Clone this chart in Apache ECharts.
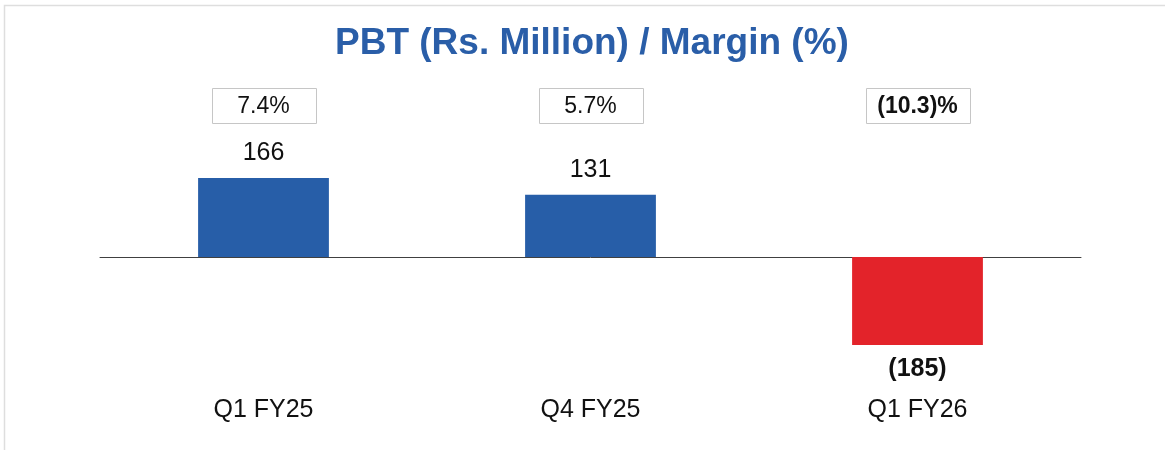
<!DOCTYPE html>
<html>
<head>
<meta charset="utf-8">
<script src="https://cdn.jsdelivr.net/npm/echarts@6/dist/echarts.min.js"></script>
<style>
html,body{margin:0;padding:0;background:#fff;}
#chart{width:1165px;height:450px;}
</style>
</head>
<body>
<div id="chart"></div>
<script>
var categories = ['Q1 FY25', 'Q4 FY25', 'Q1 FY26'];
var pbt = [166, 131, -185];
var margin = [7.4, 5.7, -10.3];
var yMin = -300, yMax = 300;

var FONT = "'Liberation Sans', Arial, sans-serif";
var BLUE = '#275ea8';
var RED = '#e3232a';

function fmtNum(v) { return v < 0 ? '(' + Math.abs(v) + ')' : String(v); }
function fmtPct(v) { return v < 0 ? '(' + Math.abs(v).toFixed(1) + ')%' : v.toFixed(1) + '%'; }

var chart = echarts.init(document.getElementById('chart'));
chart.setOption({
  animation: false,
  backgroundColor: '#fff',
  title: {
    text: 'PBT (Rs. Million) / Margin (%)',
    left: 335, top: 25, padding: 0,
    textStyle: { fontFamily: FONT, fontSize: 37, fontWeight: 'bold', color: '#2a5ea8' }
  },
  graphic: [{
    type: 'rect', silent: true, z: -1,
    shape: { x: 4.5, y: 5.5, width: 1300, height: 600 },
    style: { fill: 'none', stroke: '#dedede', lineWidth: 1.5 }
  }],
  grid: [
    { left: 100, right: 84, top: 114.2, height: 285.6 },
    { left: 100, right: 84, top: 88, height: 35 }
  ],
  xAxis: [
    { type: 'category', data: categories, gridIndex: 0,
      axisLine: { onZero: true, lineStyle: { color: '#404040', width: 1 } },
      axisTick: { show: false }, axisLabel: { show: false }, splitLine: { show: false } },
    { type: 'category', data: categories, gridIndex: 0, position: 'bottom',
      axisLine: { show: false, onZero: false }, axisTick: { show: false }, splitLine: { show: false },
      axisLabel: { show: true, margin: -2, fontFamily: FONT, fontSize: 25, color: '#111' } },
    { type: 'category', data: categories, gridIndex: 1, show: false }
  ],
  yAxis: [
    { type: 'value', min: yMin, max: yMax, gridIndex: 0, show: false, splitLine: { show: false } },
    { type: 'category', data: ['Margin'], gridIndex: 1, show: false }
  ],
  series: [
    {
      type: 'bar', xAxisIndex: 0, yAxisIndex: 0, barWidth: '40%',
      data: pbt.map(function (v) {
        return {
          value: v,
          itemStyle: { color: v < 0 ? RED : BLUE },
          label: {
            position: v < 0 ? 'bottom' : 'top',
            distance: v < 0 ? 11.5 : 12.5,
            fontWeight: v < 0 ? 'bold' : 'normal'
          }
        };
      }),
      label: {
        show: true, fontFamily: FONT, fontSize: 25, color: '#111',
        formatter: function (p) { return fmtNum(p.value); }
      }
    },
    {
      type: 'custom', xAxisIndex: 2, yAxisIndex: 1, silent: true,
      data: margin.map(function (m, i) { return [categories[i], 'Margin', m]; }),
      renderItem: function (params, api) {
        var c = api.coord([api.value(0), api.value(1)]);
        var m = api.value(2);
        var w = 104, h = 35;
        var x = Math.round(c[0] - w / 2) + 0.5;
        var y = Math.round(c[1] - h / 2) + 0.5;
        return {
          type: 'group',
          children: [
            { type: 'rect', shape: { x: x, y: y, width: w, height: h },
              style: { fill: '#fff', stroke: '#c6c6c6', lineWidth: 1 } },
            { type: 'text', x: c[0], y: c[1] + 1,
              style: { text: fmtPct(m), fontFamily: FONT, fontSize: 23,
                       fontWeight: m < 0 ? 'bold' : 'normal', fill: '#111',
                       align: 'center', verticalAlign: 'middle' } }
          ]
        };
      }
    }
  ]
});
</script>
</body>
</html>
